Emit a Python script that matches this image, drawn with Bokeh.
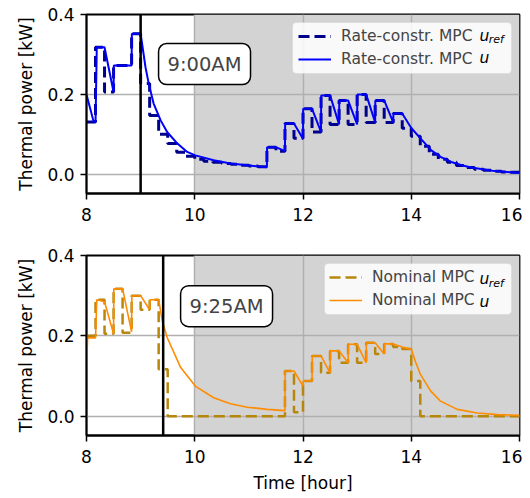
from bokeh.plotting import figure
from bokeh.layouts import column
from bokeh.models import (BoxAnnotation, Span, Label, Legend, LegendItem,
                          FixedTicker, PrintfTickFormatter, Range1d)
from bokeh.embed import file_html
from bokeh.resources import INLINE

# ---------------- data ----------------
step_start = 8.0
step_minutes = 10
n_steps = 48
step_times = [step_start + i * step_minutes / 60 for i in range(n_steps + 1)]

# Rate-constrained MPC: reference (10-min steps from 8:00)
rate_uref = [0.131, 0.318, 0.206, 0.2725, 0.2725, 0.352,
             0.227, 0.1475, 0.10, 0.077, 0.055, 0.045,
             0.038, 0.033, 0.030, 0.027, 0.025, 0.023,
             0.021, 0.019, 0.068, 0.058, 0.127, 0.09,
             0.164, 0.106, 0.1975, 0.125, 0.185, 0.125,
             0.2, 0.13, 0.185, 0.13, 0.152, 0.115,
             0.095, 0.07, 0.05, 0.038, 0.03, 0.022,
             0.017, 0.013, 0.01, 0.008, 0.006, 0.005]
rate_u_t = [8.0, 8.13, 8.167, 8.19, 8.333, 8.5, 8.505, 8.833, 8.838, 9.0,
            9.09, 9.15, 9.24, 9.37, 9.49, 9.68, 9.86, 10.01, 10.35, 10.66,
            10.97, 11.333, 11.336, 11.5, 11.667, 11.67, 11.833, 12.0, 12.003, 12.167,
            12.333, 12.336, 12.5, 12.667, 12.67, 12.833, 13.0, 13.003, 13.167, 13.333,
            13.336, 13.5, 13.667, 13.67, 13.833, 14.0, 14.17, 14.37, 14.55, 14.74,
            14.95, 15.11, 15.5, 16.0]
rate_u_v = [0.2, 0.133, 0.131, 0.318, 0.318, 0.206, 0.2725, 0.2725, 0.352, 0.352,
            0.268, 0.227, 0.177, 0.135, 0.106, 0.077, 0.056, 0.0475, 0.035, 0.027,
            0.0225, 0.018, 0.068, 0.068, 0.058, 0.127, 0.127, 0.089, 0.164, 0.164,
            0.106, 0.1975, 0.1975, 0.125, 0.185, 0.185, 0.125, 0.2, 0.2, 0.13,
            0.185, 0.185, 0.13, 0.152, 0.152, 0.116, 0.09, 0.06, 0.043, 0.031,
            0.022, 0.017, 0.009, 0.0035]

# Nominal MPC
nom_uref = [0.2, 0.29, 0.205, 0.317, 0.208, 0.3, 0.265, 0.29, 0.117,
            0.0, 0.0, 0.0, 0.0, 0.0, 0.0, 0.0, 0.0, 0.0, 0.0, 0.0, 0.0, 0.0,
            0.1125, 0.01, 0.0875, 0.15, 0.108, 0.1625, 0.133, 0.179, 0.133,
            0.183, 0.155, 0.18, 0.172, 0.167, 0.0875,
            0.0, 0.0, 0.0, 0.0, 0.0, 0.0, 0.0, 0.0, 0.0, 0.0, 0.0]
nom_u_t = [8.0, 8.02, 8.167, 8.19, 8.333, 8.5, 8.505, 8.667, 8.833, 8.838,
           9.0, 9.167, 9.172, 9.333, 9.40, 9.49, 9.74, 10.01, 10.35, 10.66,
           10.97, 11.34, 11.667, 11.67, 11.833, 12.0, 12.003, 12.167, 12.17, 12.333,
           12.5, 12.505, 12.667, 12.833, 12.836, 13.0, 13.167, 13.17, 13.333, 13.5,
           13.505, 13.667, 13.833, 14.0, 14.08, 14.17, 14.36, 14.54, 14.85, 15.22,
           15.6, 16.0]
nom_u_v = [0.12, 0.195, 0.195, 0.29, 0.285, 0.205, 0.317, 0.317, 0.21, 0.3,
           0.3, 0.265, 0.29, 0.29, 0.2375, 0.196, 0.121, 0.075, 0.046, 0.031,
           0.0225, 0.017, 0.014, 0.1125, 0.1125, 0.075, 0.0875, 0.0875, 0.15, 0.15,
           0.108, 0.1625, 0.1625, 0.133, 0.179, 0.179, 0.133, 0.183, 0.183, 0.155,
           0.18, 0.18, 0.172, 0.167, 0.135, 0.104, 0.0625, 0.0375, 0.017, 0.008,
           0.004, 0.002]

x_ticks = [8, 10, 12, 14, 16]
y_ticks = [0.0, 0.2, 0.4]
shade_start = 10.0
event_times = [9.0, 9.0 + 25 / 60]
event_labels = ["9:00AM", "9:25AM"]

FONT = "DejaVu Sans"


def make_fig(height, top, bottom, xlabel):
    p = figure(width=522, height=height, x_range=Range1d(8, 16),
               y_range=Range1d(-0.048, 0.4), output_backend="svg",
               toolbar_location=None, min_border_left=86, min_border_right=3,
               min_border_top=top, min_border_bottom=bottom)
    p.background_fill_color = "white"
    p.border_fill_color = "white"
    p.outline_line_color = "black"
    p.outline_line_width = 1.8
    p.outline_line_alpha = 1.0
    for ax in (p.xaxis, p.yaxis):
        ax.axis_line_color = "black"
        ax.axis_line_width = 1.8
        ax.major_tick_line_color = "black"
        ax.major_tick_line_width = 1.5
        ax.major_tick_out = 6
        ax.major_tick_in = 0
        ax.minor_tick_out = 0
        ax.minor_tick_in = 0
        ax.major_label_text_font = FONT
        ax.major_label_text_font_size = "17px"
        ax.major_label_text_color = "black"
        ax.axis_label_text_font = FONT
        ax.axis_label_text_font_size = "17px"
        ax.axis_label_text_font_style = "normal"
        ax.axis_label_text_color = "black"
        ax.major_label_standoff = 6
    p.xaxis.major_label_standoff = 8
    p.xaxis.ticker = FixedTicker(ticks=x_ticks)
    p.yaxis.ticker = FixedTicker(ticks=y_ticks)
    p.yaxis.formatter = PrintfTickFormatter(format="%.1f")
    p.yaxis.axis_label = "Thermal power [kW]"
    p.yaxis.axis_label_standoff = 8
    if xlabel:
        p.xaxis.axis_label = xlabel
        p.xaxis.axis_label_standoff = 7
    p.xgrid.ticker = FixedTicker(ticks=x_ticks)
    p.ygrid.ticker = FixedTicker(ticks=y_ticks)
    for g in (p.xgrid, p.ygrid):
        g.grid_line_color = "#b0b0b0"
        g.grid_line_width = 1.5
    shade = BoxAnnotation(left=shade_start, fill_color="#d3d3d3", fill_alpha=1.0,
                          line_alpha=0, level="image")
    p.add_layout(shade)
    return p


def add_legend(p, name, r_ref, r_u, label_width, box, y1, y1s, y2):
    # white legend panel drawn below the (transparent) legend
    p.add_layout(BoxAnnotation(left=box[0], right=box[1], bottom=box[2], top=box[3],
                               fill_color="white", fill_alpha=0.85,
                               line_color="#cccccc", line_width=1,
                               border_radius=4, level="underlay"))
    leg = Legend(items=[LegendItem(label=name, renderers=[r_ref]),
                        LegendItem(label=name, renderers=[r_u])],
                 location="top_right", margin=8, padding=5, spacing=5,
                 glyph_width=33, glyph_height=18, label_height=18,
                 label_standoff=10, label_width=label_width,
                 label_text_font=FONT, label_text_font_size="15.5px",
                 border_line_alpha=0, background_fill_alpha=0)
    p.add_layout(leg)
    for txt, x, y, size in (("u", 15.262, y1, "15.5px"), ("ref", 15.43, y1s, "11px"),
                            ("u", 15.262, y2, "15.5px")):
        p.add_layout(Label(x=x, y=y, text=txt, text_font=FONT, text_font_size=size,
                           text_font_style="italic", text_align="left",
                           text_baseline="middle", text_color="black"))


# ---------------- top figure ----------------
p1 = make_fig(246, 14, 53, None)
r1a = p1.step(step_times, rate_uref + rate_uref[-1:], mode="after",
              line_color="#00008b", line_width=3, line_dash="11 5")
r1b = p1.line(rate_u_t, rate_u_v, line_color="#0000ff", line_width=2)
p1.add_layout(Span(location=event_times[0], dimension="height",
                   line_color="black", line_width=2.5))
p1.add_layout(Label(x=10.181, y=0.276, text=event_labels[0], text_font=FONT,
                    text_font_size="19.5px", text_align="center",
                    text_baseline="middle", background_fill_color="white",
                    border_line_color="black", border_line_width=1.5,
                    padding=9, border_radius=8))
add_legend(p1, "Rate-constr. MPC", r1a, r1b, 165,
           (11.806, 15.852, 0.2523, 0.380), 0.347, 0.337, 0.29)

# ---------------- bottom figure ----------------
p2 = make_fig(251, 9, 62, "Time [hour]")
r2a = p2.step(step_times, nom_uref + nom_uref[-1:], mode="after",
              line_color="#b8860b", line_width=2.5, line_dash="11 5")
r2b = p2.line(nom_u_t, nom_u_v, line_color="#ff8c00", line_width=1.6)
p2.add_layout(Span(location=event_times[1], dimension="height",
                   line_color="black", line_width=2.5))
p2.add_layout(Label(x=10.588, y=0.274, text=event_labels[1], text_font=FONT,
                    text_font_size="19.5px", text_align="center",
                    text_baseline="middle", background_fill_color="white",
                    border_line_color="black", border_line_width=1.5,
                    padding=9, border_radius=8))
add_legend(p2, "Nominal MPC", r2a, r2b, 134,
           (12.397, 15.852, 0.2532, 0.380), 0.341, 0.331, 0.284)

layout = column(p1, p2)
open("out.html", "w").write(file_html(layout, INLINE))
